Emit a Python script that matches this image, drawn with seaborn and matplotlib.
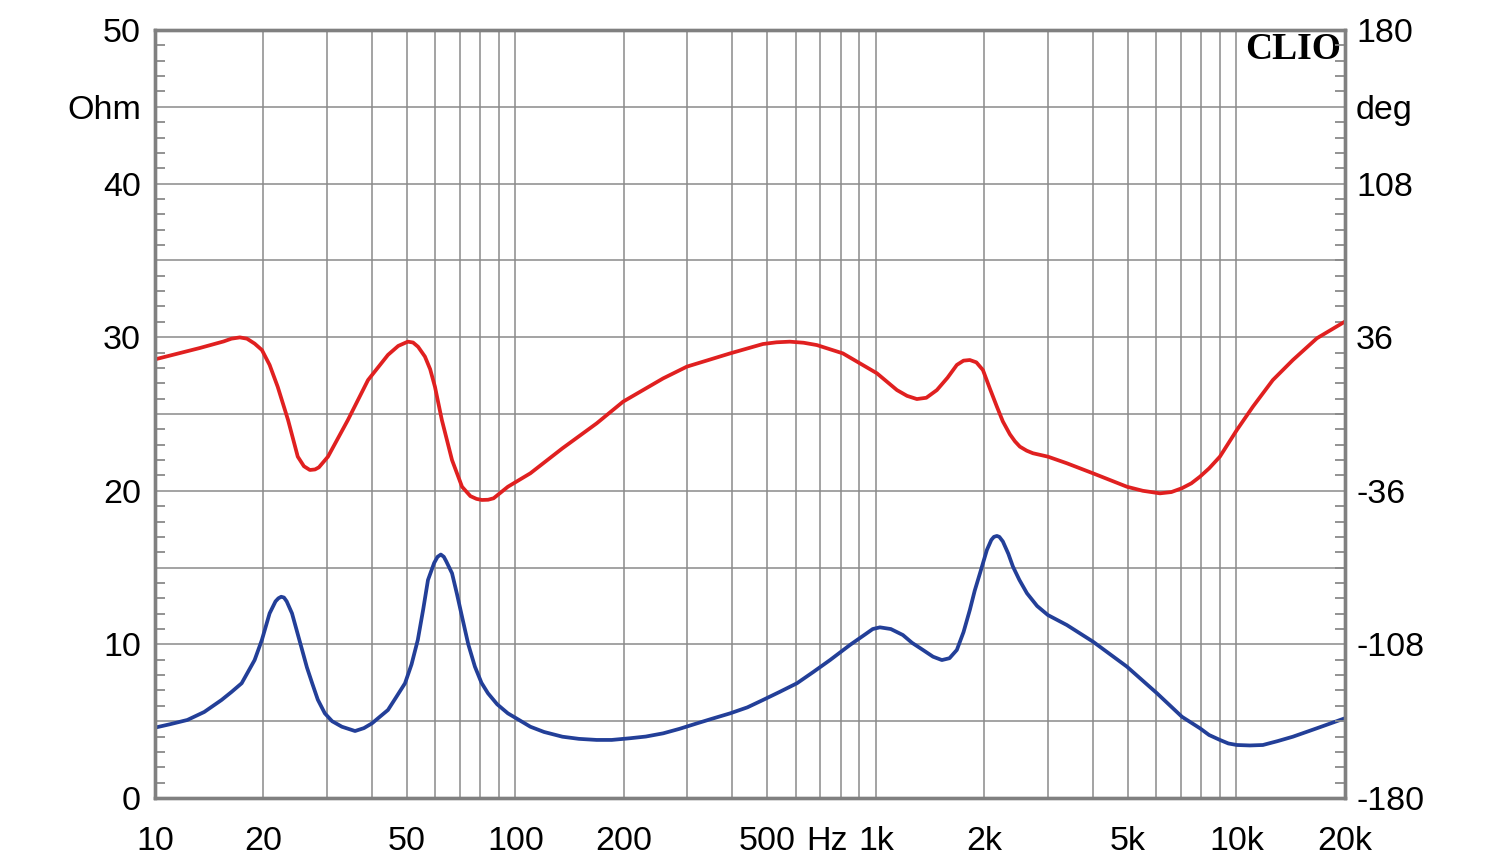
import pandas as pd
import seaborn as sns
import matplotlib.pyplot as plt
from matplotlib.ticker import FixedLocator, NullFormatter, MultipleLocator
from matplotlib.transforms import offset_copy

# impedance modulus (left axis, Ohm)
imp_freq = [10, 11, 12.3, 13.7, 15.3, 16.3, 17.4, 18.9, 19.8, 20.8, 21.6, 22.0, 22.4, 22.8, 23.2,
            24.0, 25.6, 26.4, 27.3, 28.3, 29.6, 31, 33.0, 35.9, 38, 40.0, 44.3, 46.5, 49.4, 51.5,
            53.6, 55.5, 57.2, 59.5, 60.8, 62.1, 63.3, 64.3, 66.7, 68.8, 71.1, 74, 77.2, 80.5, 83.9,
            89, 95.3, 102, 110, 120, 135, 150, 168, 185, 208, 230, 257, 285, 319, 350, 394, 440,
            486, 540, 604, 670, 746, 847, 940, 980, 1026, 1100, 1188, 1260, 1350, 1440, 1524, 1600,
            1677, 1750, 1822, 1880, 1944, 2032, 2090, 2125, 2166, 2200, 2250, 2330, 2400, 2500,
            2624, 2800, 3000, 3386, 4000, 4970, 6020, 7061, 7922, 8400, 9000, 9500, 10030, 10900,
            11842, 13000, 14345, 16726, 20000]
imp_ohm = [4.58, 4.8, 5.08, 5.6, 6.38, 6.9, 7.47, 8.98, 10.29, 12.02, 12.8, 13.0, 13.1, 13.05, 12.8,
           12.02, 9.64, 8.5, 7.47, 6.4, 5.51, 5.0, 4.64, 4.36, 4.55, 4.86, 5.73, 6.5, 7.47, 8.7,
           10.29, 12.3, 14.19, 15.3, 15.7, 15.85, 15.7, 15.4, 14.63, 13.3, 11.8, 10.0, 8.55, 7.5, 6.82,
           6.1, 5.51, 5.1, 4.64, 4.3, 3.99, 3.85, 3.78, 3.78, 3.89, 4.0, 4.21, 4.5, 4.86, 5.15, 5.51, 5.9,
           6.38, 6.9, 7.47, 8.2, 8.98, 9.96, 10.7, 11.0, 11.11, 11.0, 10.61, 10.1, 9.64, 9.2, 8.98, 9.1,
           9.64, 10.8, 12.24, 13.5, 14.63, 16.15, 16.8, 17.0, 17.06, 17.0, 16.7, 15.9, 15.06, 14.2,
           13.33, 12.5, 11.91, 11.26, 10.18, 8.55, 6.82, 5.29, 4.54, 4.1, 3.78, 3.55, 3.45, 3.42,
           3.45, 3.7, 3.99, 4.54, 5.19]

# impedance phase (right axis, deg)
ph_freq = [10, 13.3, 15.5, 16.3, 17.2, 18.0, 18.9, 19.8, 20.8, 21.9, 23.4, 24.9, 25.9, 26.9,
           27.8, 28.5, 30.2, 34.3, 39.0, 44.3, 47.3, 50.3, 52, 53.7, 56.1, 58, 59.8, 62.5, 66.7,
           71.1, 75, 78, 80.7, 84, 87, 95.3, 110, 135, 168, 199, 257, 299, 394, 486, 530, 577, 630,
           686, 810, 1006, 1144, 1220, 1299, 1380, 1476, 1580, 1677, 1750, 1822, 1900, 1981, 2070,
           2166, 2250, 2353, 2430, 2508, 2620, 2726, 3000, 3386, 4000, 4970, 5500, 6136, 6600,
           7061, 7500, 7922, 8400, 9000, 10030, 11110, 12620, 14345, 16726, 20000]
ph_deg = [25.6, 30.9, 34.0, 35.3, 35.9, 35.3, 33.0, 30, 23, 12.8, -2.8, -20, -24.5, -26.25,
          -26, -25, -20, -2.8, 15.9, 27.7, 31.9, 33.9, 33.5, 31.5, 26.9, 21, 12.8, -2.8, -21.6,
          -34.1, -38.5, -39.8, -40.3, -40.2, -39.5, -34.1, -27.8, -16.1, -4.4, 5.8, 16.7, 22.2, 28.4, 32.8, 33.6, 33.9, 33.4,
          32.3, 28.4, 19.1, 11.2, 8.5, 7.0, 7.6, 11.2, 17, 23, 25, 25.3, 24.2, 20.6, 12,
          3.4, -3.5, -9.5, -12.8, -15.3, -17.2, -18.4, -20, -23.1, -27.8, -34.1, -36, -37.2, -36.6,
          -34.8, -32.5, -29.4, -25.5, -20, -7.5, 3.4, 15.9, 25.3, 35.5, 43.3]

xtick_vals = [10, 20, 50, 100, 200, 500, 1000, 2000, 5000, 10000, 20000]
xtick_labels = ['10', '20', '50', '100', '200', '500', '1k', '2k', '5k', '10k', '20k']
grid_freqs = [20, 30, 40, 50, 60, 70, 80, 90, 100, 200, 300, 400, 500, 600, 700, 800, 900,
              1000, 2000, 3000, 4000, 5000, 6000, 7000, 8000, 9000, 10000]
ohm_ticks = [0, 5, 10, 15, 20, 25, 30, 35, 40, 45, 50]
ohm_labels = ['0', '', '10', '', '20', '', '30', '', '40', 'Ohm', '50']
deg_ticks = [-180, -108, -36, 36, 108, 144, 180]
deg_labels = ['-180', '-108', '-36', '36', '108', 'deg', '180']

sns.set_theme(style="white")
plt.rcParams['font.family'] = ['Liberation Sans', 'DejaVu Sans']

grid_col = '#8a8a8a'
lab_size = 24.5
x_pad = 20

fig = plt.figure(figsize=(15, 8.64), dpi=100)
ax = fig.add_axes([0.1033, 0.0764, 0.7933, 0.8889])
ax.set_xscale('log')
ax2 = ax.twinx()

imp = pd.DataFrame({'freq': imp_freq, 'ohm': imp_ohm})
ph = pd.DataFrame({'freq': ph_freq, 'deg': ph_deg})
sns.lineplot(data=imp, x='freq', y='ohm', ax=ax, color='#233f98', linewidth=2.7,
             solid_joinstyle='round')
sns.lineplot(data=ph, x='freq', y='deg', ax=ax2, color='#e02020', linewidth=2.7,
             solid_joinstyle='round')

ax.set_xlim(10, 20000)
ax.set_ylim(0, 50)
ax2.set_ylim(-180, 180)
ax.set_xlabel('')
ax.set_ylabel('')
ax2.set_ylabel('')

# vertical grid: 20..100, 200..1k, 2k..10k
ax.set_xticks(xtick_vals)
ax.set_xticklabels(xtick_labels)
ax.xaxis.remove_overlapping_locs = False
ax.xaxis.set_minor_locator(FixedLocator(grid_freqs))
ax.xaxis.set_minor_formatter(NullFormatter())
ax.grid(which='minor', axis='x', color=grid_col, linewidth=1.1)
ax.grid(which='major', axis='x', visible=False)

ax.set_yticks(ohm_ticks)
ax.set_yticklabels(ohm_labels)
ax.yaxis.set_minor_locator(MultipleLocator(1))
ax.grid(which='major', axis='y', color=grid_col, linewidth=1.1)

ax2.set_yticks(deg_ticks)
ax2.set_yticklabels(deg_labels)
ax2.yaxis.set_minor_locator(MultipleLocator(7.2))
ax2.grid(False)

ax.tick_params(axis='x', which='both', length=0, pad=x_pad, labelsize=lab_size, labelcolor='black')
ax.tick_params(axis='y', which='major', length=0, pad=10, labelsize=lab_size, labelcolor='black')
ax.tick_params(axis='y', which='minor', left=True, direction='in', length=7, width=1.3, color=grid_col)
ax2.tick_params(axis='y', which='major', length=0, pad=8, labelsize=lab_size, labelcolor='black')
ax2.tick_params(axis='y', which='minor', right=True, direction='in', length=7, width=1.3, color=grid_col)

for a in (ax, ax2):
    for sp in a.spines.values():
        sp.set_color('#808080')
        sp.set_linewidth(2.4)

hz_trans = offset_copy(ax.get_xaxis_transform(), fig=fig, y=-x_pad, units='points')
ax.text(730, 0, 'Hz', transform=hz_trans, ha='center', va='top',
        fontsize=lab_size, color='black')
ax.text(0.997, 0.997, 'CLIO', transform=ax.transAxes, ha='right', va='top',
        fontsize=27, fontweight='bold', family='Liberation Serif', color='black')

fig.savefig('out.png', dpi=100)
